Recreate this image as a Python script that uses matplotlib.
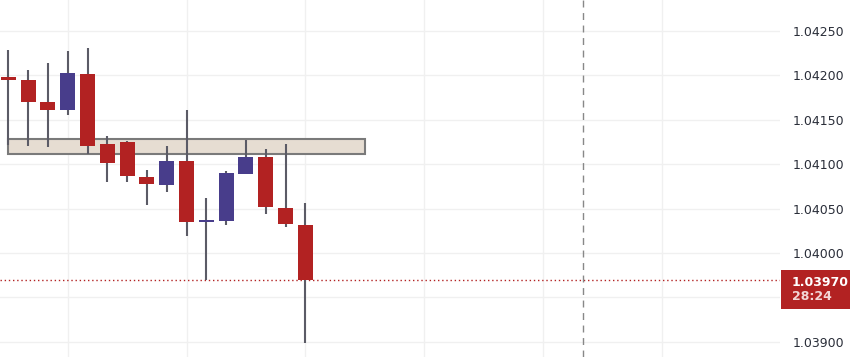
import matplotlib
matplotlib.use("Agg")
import matplotlib.pyplot as plt
from matplotlib.patches import Rectangle

opens  = [1.04198, 1.04195, 1.04170, 1.04161, 1.04202, 1.04123, 1.04125, 1.04086,
          1.04077, 1.04104, 1.04035, 1.04036, 1.04089, 1.04108, 1.04051, 1.04032]
highs  = [1.04229, 1.04206, 1.04214, 1.04227, 1.04231, 1.04132, 1.04126, 1.04093,
          1.04120, 1.04161, 1.04062, 1.04092, 1.04127, 1.04117, 1.04123, 1.04056]
lows   = [1.04122, 1.04120, 1.04119, 1.04155, 1.04111, 1.04080, 1.04080, 1.04054,
          1.04069, 1.04019, 1.03970, 1.04032, 1.04089, 1.04044, 1.04029, 1.03899]
closes = [1.04195, 1.04170, 1.04161, 1.04203, 1.04121, 1.04101, 1.04087, 1.04078,
          1.04104, 1.04035, 1.04037, 1.04090, 1.04108, 1.04052, 1.04033, 1.03970]

zone_low, zone_high = 1.04111, 1.04128
zone_start, zone_end = 0, 18
now_index = 29
last_price = 1.03970
last_label = "1.03970"
countdown = "28:24"
ytick_vals = [1.03900, 1.03950, 1.04000, 1.04050, 1.04100, 1.04150, 1.04200, 1.04250]
ytick_labels = ["1.03900", "", "1.04000", "1.04050", "1.04100", "1.04150", "1.04200", "1.04250"]
xgrid_idx = [3, 9, 15, 21, 27, 33]

UP = "#483D8B"
DOWN = "#B22222"
WICK = "#5b5b66"

fig = plt.figure(figsize=(8.5, 3.57), dpi=100)
ax = fig.add_axes([0, 0, 780 / 850, 1])
ax.set_xlim(-0.42, 38.97)
ax.set_ylim(1.038829, 1.042849)

for v in ytick_vals:
    ax.axhline(v, color="#f0f0f0", lw=1.0, zorder=0)
for i in xgrid_idx:
    ax.axvline(i, color="#f0f0f0", lw=1.0, zorder=0)

# zone rectangle
ax.add_patch(Rectangle((zone_start, zone_low), zone_end - zone_start, zone_high - zone_low,
                       facecolor="#e6ddd2", edgecolor="#7a7a7a", lw=1.5, zorder=1))

w = 0.76
for i, (o, h, l, c) in enumerate(zip(opens, highs, lows, closes)):
    col = UP if c >= o else DOWN
    ax.vlines(i, l, h, color=WICK, lw=1.5, zorder=2)
    bot = min(o, c)
    ht = max(abs(c - o), 0.000025)
    ax.add_patch(Rectangle((i - w / 2, bot), w, ht, facecolor=col, edgecolor="none", zorder=3))

ax.axhline(last_price, color=DOWN, lw=1.0, ls=(0, (1, 2)), zorder=1.5)
ax.axvline(now_index, color="#888888", lw=1.0, ls=(0, (5, 4)), zorder=1.5)

ax.yaxis.tick_right()
ax.set_yticks(ytick_vals)
ax.set_yticklabels(ytick_labels)
ax.tick_params(axis="y", length=0, pad=9, labelsize=9, labelcolor="#2a2e39")
ax.set_xticks([])
for s in ax.spines.values():
    s.set_visible(False)

# price tag
fig.patches.append(Rectangle((781 / 850, (357 - 309) / 357), 69 / 850, 39 / 357,
                             transform=fig.transFigure, facecolor=DOWN, edgecolor="none",
                             zorder=5))
fig.text(792 / 850, 1 - 282 / 357, last_label, color="white", fontsize=9, fontweight="bold",
         va="center", ha="left", zorder=6)
fig.text(792 / 850, 1 - 297 / 357, countdown, color="#f3d6d6", fontsize=9, fontweight="bold",
         va="center", ha="left", zorder=6)

fig.savefig("out.png", dpi=100)
